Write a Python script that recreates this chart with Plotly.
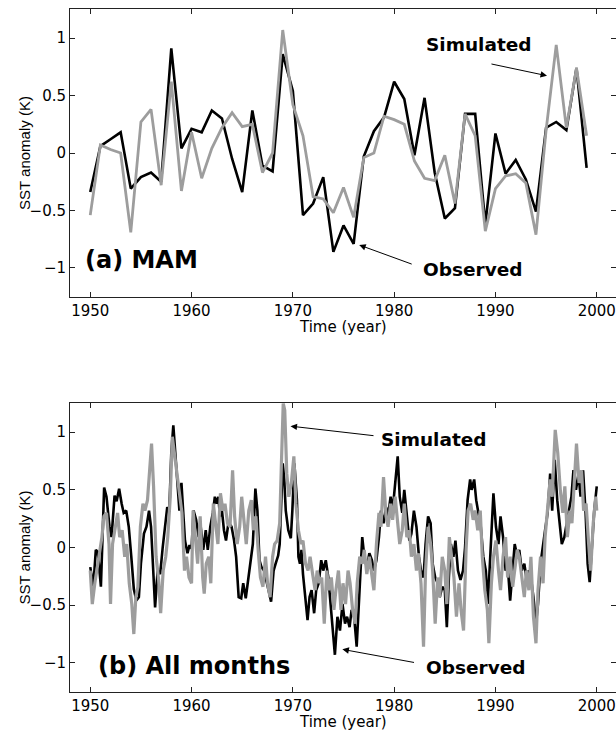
import plotly.graph_objects as go

# ---------------- data ----------------
years = list(range(1950, 2000))
mam_obs = [-0.34, 0.06, 0.12, 0.18, -0.31, -0.21, -0.17, -0.25, 0.91, 0.04,
           0.21, 0.18, 0.37, 0.30, -0.05, -0.34, 0.37, -0.11, -0.16, 0.86,
           0.54, -0.54, -0.44, -0.21, -0.86, -0.63, -0.79, -0.03, 0.19, 0.31,
           0.62, 0.47, -0.02, 0.48, -0.17, -0.57, -0.48, 0.34, 0.34, -0.62,
           0.17, -0.18, -0.06, -0.23, -0.51, 0.22, 0.27, 0.20, 0.74, -0.13]
mam_sim = [-0.54, 0.07, 0.03, 0.00, -0.69, 0.27, 0.38, -0.28, 0.62, -0.33,
           0.18, -0.22, 0.04, 0.22, 0.35, 0.23, 0.25, -0.17, 0.00, 1.07,
           0.42, 0.15, -0.38, -0.40, -0.52, -0.30, -0.56, -0.04, 0.00, 0.32,
           0.29, 0.25, -0.07, -0.22, -0.24, -0.02, -0.44, 0.34, 0.15, -0.68,
           -0.31, -0.20, -0.18, -0.26, -0.71, 0.20, 0.94, 0.22, 0.74, 0.15]

obs_t = [1950.0, 1950.3, 1950.55, 1950.75, 1951.05, 1951.37, 1951.6, 1951.9, 1952.1, 1952.4,
         1952.6, 1952.85, 1953.1, 1953.3, 1953.55, 1953.8, 1954.05, 1954.3, 1954.55, 1954.8,
         1955.0, 1955.3, 1955.55, 1955.8, 1956.0, 1956.25, 1956.4, 1956.65, 1956.9, 1957.15,
         1957.35, 1957.6, 1957.8, 1958.0, 1958.2, 1958.35, 1958.6, 1958.8, 1959.0, 1959.2,
         1959.35, 1959.6, 1959.8, 1960.0, 1960.2, 1960.45, 1960.7, 1960.9, 1961.15, 1961.4,
         1961.6, 1961.85, 1962.1, 1962.3, 1962.5, 1962.65, 1962.8, 1963.0, 1963.2, 1963.4,
         1963.65, 1963.95, 1964.2, 1964.4, 1964.65, 1964.9, 1965.1, 1965.35, 1965.6, 1965.8,
         1966.05, 1966.3, 1966.5, 1966.7, 1966.9, 1967.15, 1967.4, 1967.6, 1967.85, 1968.1,
         1968.3, 1968.55, 1968.7, 1968.85, 1969.0, 1969.15, 1969.3, 1969.55, 1969.8, 1969.95,
         1970.15, 1970.4, 1970.55, 1970.7, 1970.85, 1971.0, 1971.25, 1971.45, 1971.65, 1971.85,
         1972.1, 1972.3, 1972.55, 1972.8, 1973.0, 1973.25, 1973.5, 1973.7, 1973.95, 1974.15,
         1974.4, 1974.65, 1974.9, 1975.15, 1975.35, 1975.6, 1975.8, 1976.05, 1976.3, 1976.5,
         1976.7, 1976.85, 1977.05, 1977.3, 1977.55, 1977.8, 1978.0, 1978.25, 1978.5, 1978.7,
         1978.95, 1979.2, 1979.4, 1979.65, 1979.85, 1980.1, 1980.35, 1980.55, 1980.8, 1981.0,
         1981.25, 1981.5, 1981.7, 1981.95, 1982.2, 1982.45, 1982.65, 1982.9, 1983.1, 1983.35,
         1983.6, 1983.8, 1984.05, 1984.3, 1984.5, 1984.75, 1985.0, 1985.2, 1985.4, 1985.6,
         1985.85, 1986.05, 1986.3, 1986.55, 1986.8, 1987.0, 1987.25, 1987.5, 1987.65, 1987.9,
         1988.1, 1988.35, 1988.55, 1988.8, 1989.05, 1989.25, 1989.4, 1989.65, 1989.8, 1990.05,
         1990.3, 1990.5, 1990.75, 1991.0, 1991.2, 1991.45, 1991.65, 1991.9, 1992.15, 1992.35,
         1992.6, 1992.85, 1993.05, 1993.3, 1993.5, 1993.75, 1994.0, 1994.2, 1994.45, 1994.7,
         1994.9, 1995.15, 1995.4, 1995.6, 1995.85, 1996.1, 1996.3, 1996.55, 1996.8, 1997.0,
         1997.25, 1997.5, 1997.7, 1997.95, 1998.2, 1998.4, 1998.65, 1998.9, 1999.1, 1999.3,
         1999.5, 1999.75, 2000.0]
obs_v = [-0.17, -0.34, -0.02, -0.04, -0.34, 0.52, 0.44, 0.18, 0.09, 0.45,
         0.40, 0.51, 0.38, 0.30, 0.32, 0.18, -0.08, -0.36, -0.46, -0.43,
         -0.14, 0.12, 0.18, 0.32, 0.18, -0.23, -0.52, -0.20, -0.23, 0.00,
         0.18, 0.35, 0.31, 0.82, 1.06, 0.88, 0.50, 0.32, 0.56, 0.32,
         0.06, -0.05, 0.02, -0.01, 0.32, 0.24, 0.09, 0.18, -0.02, 0.15,
         -0.02, 0.18, 0.30, 0.44, 0.38, 0.44, 0.27, 0.32, 0.15, 0.06,
         0.22, 0.18, 0.06, -0.08, -0.43, -0.44, -0.31, -0.44, -0.28, -0.12,
         0.03, 0.51, 0.32, -0.11, -0.17, -0.20, -0.31, -0.37, -0.47, -0.20,
         -0.14, -0.07, 0.03, 0.38, 0.73, 0.59, 0.32, 0.15, 0.08, 0.32,
         0.73, 0.41, -0.08, -0.14, -0.02, -0.23, -0.49, -0.63, -0.43, -0.37,
         -0.57, -0.37, -0.31, -0.11, -0.20, -0.11, -0.26, -0.46, -0.72, -0.93,
         -0.60, -0.72, -0.49, -0.66, -0.60, -0.69, -0.54, -0.60, -0.86, -0.49,
         -0.08, 0.09, -0.08, -0.17, -0.05, -0.11, -0.20, -0.11, 0.09, 0.32,
         0.21, 0.35, 0.27, 0.44, 0.32, 0.56, 0.79, 0.44, 0.30, 0.50,
         0.27, 0.06, 0.12, 0.32, 0.18, -0.08, -0.20, -0.26, 0.03, 0.27,
         0.21, -0.14, -0.26, -0.31, -0.43, -0.34, -0.37, -0.69, -0.26, 0.03,
         -0.08, 0.06, -0.20, -0.28, -0.20, 0.00, 0.41, 0.59, 0.50, 0.59,
         0.41, 0.30, 0.18, -0.08, -0.20, -0.49, -0.20, 0.18, 0.47, 0.18,
         0.03, 0.27, 0.09, -0.20, -0.14, -0.46, -0.20, 0.03, -0.08, -0.02,
         -0.20, -0.14, -0.26, -0.20, -0.26, -0.43, -0.66, -0.49, -0.14, 0.00,
         0.15, 0.30, 0.64, 0.32, 0.76, 0.41, 0.21, 0.03, 0.09, 0.18,
         0.32, 0.44, 0.67, 0.50, 0.64, 0.44, 0.67, 0.30, -0.14, -0.30,
         0.03, 0.32, 0.53]

sim_t = [1950.0, 1950.2, 1950.45, 1950.65, 1950.9, 1951.15, 1951.35, 1951.6, 1951.85, 1952.0,
         1952.2, 1952.45, 1952.7, 1952.9, 1953.15, 1953.4, 1953.6, 1953.85, 1954.1, 1954.3,
         1954.5, 1954.7, 1954.95, 1955.2, 1955.4, 1955.65, 1955.85, 1956.05, 1956.25, 1956.5,
         1956.75, 1956.95, 1957.2, 1957.45, 1957.65, 1957.9, 1958.1, 1958.35, 1958.6, 1958.8,
         1959.05, 1959.3, 1959.5, 1959.75, 1960.0, 1960.15, 1960.4, 1960.6, 1960.85, 1961.1,
         1961.25, 1961.45, 1961.7, 1961.9, 1962.15, 1962.4, 1962.6, 1962.85, 1963.1, 1963.3,
         1963.55, 1963.8, 1964.05, 1964.25, 1964.5, 1964.75, 1964.95, 1965.2, 1965.4, 1965.65,
         1965.9, 1966.1, 1966.35, 1966.6, 1966.8, 1967.05, 1967.3, 1967.5, 1967.75, 1968.0,
         1968.2, 1968.45, 1968.7, 1968.85, 1969.05, 1969.2, 1969.4, 1969.6, 1969.85, 1970.1,
         1970.3, 1970.55, 1970.8, 1971.0, 1971.25, 1971.5, 1971.7, 1971.95, 1972.2, 1972.4,
         1972.65, 1972.85, 1973.1, 1973.35, 1973.55, 1973.8, 1974.05, 1974.25, 1974.5, 1974.75,
         1974.95, 1975.2, 1975.45, 1975.65, 1975.9, 1976.15, 1976.35, 1976.6, 1976.85, 1977.05,
         1977.3, 1977.55, 1977.8, 1978.0, 1978.25, 1978.5, 1978.7, 1978.95, 1979.2, 1979.4,
         1979.65, 1979.85, 1980.1, 1980.35, 1980.55, 1980.8, 1981.0, 1981.25, 1981.5, 1981.7,
         1981.95, 1982.2, 1982.4, 1982.65, 1982.9, 1983.1, 1983.35, 1983.6, 1983.8, 1984.05,
         1984.3, 1984.5, 1984.75, 1985.0, 1985.2, 1985.45, 1985.7, 1985.9, 1986.15, 1986.4,
         1986.6, 1986.85, 1987.1, 1987.3, 1987.55, 1987.8, 1988.0, 1988.25, 1988.5, 1988.7,
         1988.95, 1989.2, 1989.35, 1989.6, 1989.8, 1990.05, 1990.3, 1990.5, 1990.75, 1991.0,
         1991.2, 1991.45, 1991.7, 1991.9, 1992.15, 1992.35, 1992.6, 1992.85, 1993.05, 1993.3,
         1993.5, 1993.75, 1994.0, 1994.2, 1994.45, 1994.7, 1994.9, 1995.15, 1995.4, 1995.6,
         1995.9, 1996.15, 1996.4, 1996.65, 1996.85, 1997.1, 1997.35, 1997.55, 1997.8, 1998.0,
         1998.25, 1998.5, 1998.7, 1998.95, 1999.2, 1999.4, 1999.65, 1999.9, 2000.0]
sim_v = [-0.20, -0.49, -0.31, -0.20, -0.08, 0.09, 0.27, 0.30, 0.03, -0.49,
         0.03, 0.15, 0.30, 0.09, 0.15, -0.08, 0.03, -0.31, -0.49, -0.75,
         -0.43, -0.34, 0.18, 0.38, 0.32, 0.41, 0.67, 0.90, 0.53, -0.08,
         -0.28, -0.57, -0.20, -0.08, 0.09, 0.44, 0.96, 0.79, 0.59, 0.44,
         0.30, -0.20, -0.08, -0.26, -0.31, 0.32, 0.09, -0.14, 0.27, -0.26,
         -0.40, -0.14, -0.08, -0.31, 0.38, 0.18, 0.03, 0.47, 0.32, 0.38,
         0.21, 0.18, 0.67, 0.27, 0.03, 0.18, 0.44, 0.21, 0.03, 0.32,
         0.41, 0.15, 0.27, -0.05, -0.26, -0.34, -0.08, -0.31, -0.43, -0.08,
         0.03, 0.06, 0.21, 0.67, 1.25, 1.19, 0.64, 0.44, 0.56, 0.79,
         0.38, 0.15, 0.03, 0.06, -0.14, -0.20, -0.08, -0.23, -0.37, -0.20,
         -0.31, -0.26, -0.66, -0.20, -0.37, -0.26, -0.54, -0.37, -0.20, -0.54,
         -0.31, -0.49, -0.20, -0.31, -0.54, -0.66, -0.31, -0.08, -0.14, -0.02,
         -0.23, -0.08, -0.26, -0.37, 0.03, 0.30, 0.18, 0.61, 0.27, 0.18,
         0.38, 0.24, 0.44, 0.18, 0.03, 0.15, 0.38, 0.09, 0.15, -0.08,
         0.03, -0.20, -0.05, -0.31, -0.86, -0.20, 0.18, 0.03, -0.20, -0.66,
         -0.26, -0.43, -0.08, -0.20, -0.49, 0.09, -0.08, -0.26, -0.60, -0.31,
         -0.54, -0.72, -0.02, 0.32, 0.38, 0.24, 0.32, 0.15, 0.32, -0.08,
         -0.37, -0.54, -0.83, -0.31, -0.08, 0.06, -0.20, -0.37, -0.08, 0.09,
         -0.26, -0.08, -0.34, -0.20, -0.02, -0.08, -0.26, -0.43, -0.20, -0.37,
         -0.08, -0.60, -0.83, -0.37, -0.08, -0.31, 0.09, 0.38, 0.59, 0.44,
         1.02, 0.82, 0.50, 0.30, 0.53, 0.09, 0.32, 0.21, 0.61, 0.90,
         0.56, 0.67, 0.32, 0.38, 0.03, -0.20, 0.21, 0.44, 0.32]

year_ticks = [1950, 1960, 1970, 1980, 1990, 2000]
value_ticks = [-1, -0.5, 0, 0.5, 1]

# ---------------- styles ----------------
OBS_COLOR = "#000000"
SIM_COLOR = "#9d9d9d"
TICK_FONT = dict(family="DejaVu Sans", size=15, color="black")
LABEL_FONT = "DejaVu Sans"

fig = go.Figure()
fig.add_trace(go.Scatter(x=years, y=mam_obs, mode="lines", xaxis="x", yaxis="y",
                         line=dict(color=OBS_COLOR, width=2.6)))
fig.add_trace(go.Scatter(x=years, y=mam_sim, mode="lines", xaxis="x", yaxis="y",
                         line=dict(color=SIM_COLOR, width=2.8)))
fig.add_trace(go.Scatter(x=obs_t, y=obs_v, mode="lines", xaxis="x2", yaxis="y2",
                         line=dict(color=OBS_COLOR, width=2.6)))
fig.add_trace(go.Scatter(x=sim_t, y=sim_v, mode="lines", xaxis="x2", yaxis="y2",
                         line=dict(color=SIM_COLOR, width=3.2)))

H = 732.0
top_dom = [1 - 296.7 / H, 1 - 9.3 / H]
bot_dom = [1 - 691.7 / H, 1 - 403.3 / H]

xcommon = dict(range=[1948, 2001.9], tickvals=year_ticks, ticks="inside", ticklen=5,
               tickcolor="#222", showline=True, linecolor="#222", linewidth=1,
               mirror="ticks", showgrid=False, zeroline=False, tickfont=TICK_FONT,
               domain=[0, 1])
ycommon = dict(range=[-1.25, 1.25], tickvals=value_ticks, ticks="inside", ticklen=5,
               tickcolor="#222", showline=True, linecolor="#222", linewidth=1,
               mirror="ticks", showgrid=False, zeroline=False, tickfont=TICK_FONT)

fig.update_layout(
    width=616, height=732,
    margin=dict(l=70, r=0, t=0, b=0),
    paper_bgcolor="white", plot_bgcolor="white",
    showlegend=False,
    xaxis=dict(xcommon, anchor="y"),
    yaxis=dict(ycommon, anchor="x", domain=top_dom),
    xaxis2=dict(xcommon, anchor="y2"),
    yaxis2=dict(ycommon, anchor="x2", domain=bot_dom),
)

anns = []
# axis titles
for dom, ty in ((top_dom, 1 - 326.7 / H), (bot_dom, 1 - 721.7 / H)):
    anns.append(dict(text="Time (year)", xref="paper", yref="paper", x=0.5, y=ty,
                     xanchor="center", yanchor="middle", showarrow=False,
                     font=dict(family=LABEL_FONT, size=15, color="black")))
    anns.append(dict(text="SST anomaly (K)", xref="paper", yref="paper",
                     x=(24 - 70) / 546.0, y=(dom[0] + dom[1]) / 2, textangle=-90,
                     xanchor="center", yanchor="middle", showarrow=False,
                     font=dict(family="Liberation Sans", size=15, color="black")))

def label(text, xr, yr, x, y, size):
    return dict(text="<b>%s</b>" % text, xref=xr, yref=yr, x=x, y=y, showarrow=False,
                xanchor="center", yanchor="middle",
                font=dict(family=LABEL_FONT, size=size, color="black"))

def arrow(xr, yr, hx, hy, tx, ty):
    return dict(text="", xref=xr, yref=yr, x=hx, y=hy, axref=xr, ayref=yr, ax=tx, ay=ty,
                showarrow=True, arrowhead=2, arrowsize=1.3, arrowwidth=1, arrowcolor="black",
                standoff=0, startstandoff=0)

anns += [
    label("Simulated", "x", "y", 1988.34, 0.942, 18.5),
    label("Observed", "x", "y", 1987.75, -1.01, 18.5),
    label("(a) MAM", "x", "y", 1955.07, -0.934, 24),
    arrow("x", "y", 1995.09, 0.672, 1989.46, 0.777),
    arrow("x", "y", 1976.55, -0.80, 1981.88, -0.971),
    label("Simulated", "x2", "y2", 1983.92, 0.939, 18.5),
    label("Observed", "x2", "y2", 1988.03, -1.036, 18.5),
    label("(b) All months", "x2", "y2", 1960.24, -1.023, 24),
    arrow("x2", "y2", 1969.77, 1.052, 1978.11, 0.968),
    arrow("x2", "y2", 1974.89, -0.883, 1982.11, -0.999),
]
fig.update_layout(annotations=anns)

fig.write_html("out.html")
